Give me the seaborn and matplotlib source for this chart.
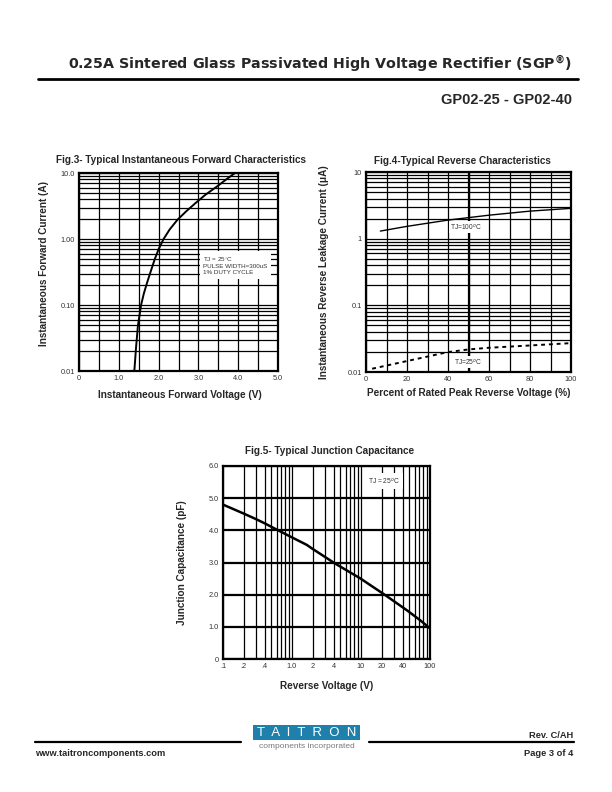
import matplotlib
matplotlib.use("Agg")
import matplotlib.pyplot as plt
import seaborn as sns
from matplotlib.ticker import LogLocator, NullFormatter, MultipleLocator
from matplotlib.lines import Line2D
from matplotlib.patches import Rectangle

# ---------------- data ----------------
# Fig.3 forward characteristics
vf_volts = [1.39, 1.41, 1.43, 1.48, 1.56, 1.63, 1.71, 1.80, 1.90, 2.00, 2.125, 2.28, 2.475, 2.70, 2.92, 3.18, 3.46, 3.70, 3.92]
if_amps = [0.01, 0.0145, 0.0215, 0.0483, 0.1, 0.15, 0.217, 0.32, 0.488, 0.70, 1.0, 1.40, 1.96, 2.65, 3.47, 4.70, 6.2, 8.0, 10.0]
fig3_xticks = [0, 1, 2, 3, 4, 5]
fig3_xlabels = ["0", "1.0", "2.0", "3.0", "4.0", "5.0"]
fig3_yticks = [0.01, 0.1, 1, 10]
fig3_ylabels = ["0.01", "0.10", "1.00", "10.0"]

# Fig.4 reverse characteristics
pct_100 = [7, 20, 40, 60, 80, 100]
ir_100 = [1.30, 1.53, 1.90, 2.25, 2.59, 2.85]
pct_25 = [3, 20, 40, 50, 60, 80, 100]
ir_25 = [0.0112, 0.0146, 0.0199, 0.0218, 0.0231, 0.0250, 0.0271]
fig4_xticks = [0, 20, 40, 60, 80, 100]
fig4_yticks = [0.01, 0.1, 1, 10]
fig4_ylabels = ["0.01", "0.1", "1", "10"]

# Fig.5 junction capacitance
vr_volts = [0.1, 0.2, 0.3, 0.4, 0.63, 1.0, 1.63, 2.0, 4.2, 9.7, 22.3, 45.9, 71.6, 100]
cj_pf = [4.80, 4.52, 4.35, 4.22, 4.00, 3.78, 3.55, 3.42, 2.97, 2.51, 1.99, 1.52, 1.21, 0.95]
fig5_xticks = [0.1, 0.2, 0.4, 1, 2, 4, 10, 20, 40, 100]
fig5_xlabels = [".1", ".2", ".4", "1.0", "2", "4", "10", "20", "40", "100"]
fig5_yticks = [0, 1, 2, 3, 4, 5, 6]
fig5_ylabels = ["0", "1.0", "2.0", "3.0", "4.0", "5.0", "6.0"]

# ---------------- figure ----------------
sns.set_theme(style="white")
plt.rcParams['font.family'] = ['Liberation Sans', 'DejaVu Sans']
plt.rcParams['mathtext.fontset'] = 'custom'
plt.rcParams['mathtext.rm'] = 'Liberation Sans'
plt.rcParams['mathtext.bf'] = 'DejaVu Sans:bold'

W, H = 612, 792
fig = plt.figure(figsize=(W / 100, H / 100), dpi=100)
fig.patch.set_facecolor('white')


def box(l, t, r, b):
    return [l / W, 1 - b / H, (r - l) / W, (b - t) / H]


def ftext(x, y, s, **kw):
    fig.text(x / W, 1 - y / H, s, **kw)


def hline(x0, x1, y, lw):
    fig.add_artist(Line2D([x0 / W, x1 / W], [1 - y / H, 1 - y / H],
                          color='black', lw=lw, transform=fig.transFigure))


def style(ax):
    for s in ax.spines.values():
        s.set_visible(True)
        s.set_color('black')
        s.set_linewidth(1.6)
    ax.tick_params(which='both', length=0, labelsize=5.3, pad=3, colors='#333333')
    ax.grid(which='both', color='black', linewidth=0.9)
    ax.set_axisbelow(True)
    ax.set_facecolor('white')


LAB = 7.2

# ---- Fig.3 ----
ax3 = fig.add_axes(box(79, 173, 278, 371))
style(ax3)
sns.lineplot(x=vf_volts, y=if_amps, ax=ax3, color='black', lw=1.4, sort=False)
ax3.set_yscale('log')
ax3.set_xlim(0, 5)
ax3.set_ylim(0.01, 10)
ax3.set_xticks(fig3_xticks, labels=fig3_xlabels)
ax3.xaxis.set_minor_locator(MultipleLocator(0.5))
ax3.set_yticks(fig3_yticks, labels=fig3_ylabels)
ax3.yaxis.set_minor_locator(LogLocator(base=10, subs=range(2, 10)))
ax3.yaxis.set_minor_formatter(NullFormatter())
ax3.set_xlabel("")
ax3.set_ylabel("")
ax3.text(3.12, 0.40, "TJ = 25$^{\\circ}$C\nPULSE WIDTH=300uS\n1% DUTY CYCLE",
         fontsize=4.5, color='#333333', va='center', ha='left', linespacing=1.2,
         bbox=dict(facecolor='white', edgecolor='none', pad=2.5))
ftext(181, 160, "Fig.3- Typical Instantaneous Forward Characteristics",
      fontsize=LAB, fontweight='bold', ha='center', va='center')
ftext(180, 395, "Instantaneous Forward Voltage (V)",
      fontsize=LAB, fontweight='bold', ha='center', va='center')
ftext(44, 263, "Instantaneous Forward Current (A)", rotation=90,
      fontsize=LAB, fontweight='bold', ha='center', va='center')

# ---- Fig.4 ----
ax4 = fig.add_axes(box(366, 172, 571, 372))
style(ax4)
ax4.axvline(50, color='black', lw=1.6, zorder=0.6)
sns.lineplot(x=pct_100, y=ir_100, ax=ax4, color='black', lw=1.0)
sns.lineplot(x=pct_25, y=ir_25, ax=ax4, color='black', lw=1.4, linestyle=(0, (2, 2)))
ax4.set_yscale('log')
ax4.set_xlim(0, 100)
ax4.set_ylim(0.01, 10)
ax4.set_xticks(fig4_xticks)
ax4.xaxis.set_minor_locator(MultipleLocator(10))
ax4.set_yticks(fig4_yticks, labels=fig4_ylabels)
ax4.yaxis.set_minor_locator(LogLocator(base=10, subs=range(2, 10)))
ax4.yaxis.set_minor_formatter(NullFormatter())
ax4.set_xlabel("")
ax4.set_ylabel("")
ax4.text(49, 1.5, "TJ=100$^{o}$C", fontsize=4.8, color='#333333', ha='center', va='center',
         bbox=dict(facecolor='white', edgecolor='none', pad=1.0))
ax4.text(50, 0.0141, "TJ=25$^{o}$C", fontsize=4.8, color='#333333', ha='center', va='center',
         bbox=dict(facecolor='white', edgecolor='none', pad=1.0))
ftext(462, 161, "Fig.4-Typical Reverse Characteristics",
      fontsize=LAB, fontweight='bold', ha='center', va='center')
ftext(469, 393, "Percent of Rated Peak Reverse Voltage (%)",
      fontsize=LAB, fontweight='bold', ha='center', va='center')
ftext(324, 272, "Instantaneous Reverse Leakage Current (\u03bcA)", rotation=90,
      fontsize=LAB, fontweight='bold', ha='center', va='center')

# ---- Fig.5 ----
ax5 = fig.add_axes(box(223, 466, 430, 659))
style(ax5)
sns.lineplot(x=vr_volts, y=cj_pf, ax=ax5, color='black', lw=1.8)
ax5.set_xscale('log')
ax5.set_xlim(0.1, 100)
ax5.set_ylim(0, 6)
ax5.set_xticks(fig5_xticks, labels=fig5_xlabels)
ax5.xaxis.set_minor_locator(LogLocator(base=10, subs=range(1, 10)))
ax5.xaxis.set_minor_formatter(NullFormatter())
ax5.set_yticks(fig5_yticks, labels=fig5_ylabels)
ax5.grid(which='major', axis='y', color='black', linewidth=1.6)
ax5.set_xlabel("")
ax5.set_ylabel("")
ax5.text(21.5, 5.53, "TJ = 25$^{o}$C", fontsize=4.8, color='#333333', ha='center', va='center',
         bbox=dict(facecolor='white', edgecolor='none', pad=2.0))
ftext(330, 451, "Fig.5- Typical Junction Capacitance",
      fontsize=LAB, fontweight='bold', ha='center', va='center')
ftext(327, 686, "Reverse Voltage (V)",
      fontsize=LAB, fontweight='bold', ha='center', va='center')
ftext(182, 563, "Junction Capacitance (pF)", rotation=90,
      fontsize=LAB, fontweight='bold', ha='center', va='center')

# ---- header ----
ftext(572, 64, "0.25A Sintered Glass Passivated High Voltage Rectifier (SGP$^{\\mathbf{\u00ae}}$)",
      fontsize=10.3, fontweight='bold', family=['DejaVu Sans'], ha='right', va='center')
hline(38, 578, 79, 2.0)
ftext(572, 100, "GP02-25 - GP02-40", fontsize=10.5, fontweight='bold', ha='right', va='center')

# ---- footer ----
hline(35, 241, 742, 1.6)
hline(369, 574, 742, 1.6)
fig.add_artist(Rectangle((253 / W, 1 - 740 / H), (360 - 253) / W, 15 / H,
                         transform=fig.transFigure, facecolor='#1e80ab', edgecolor='none'))
ftext(306.5, 732.8, "T  A  I  T  R  O  N", fontsize=9.5, color='white', ha='center', va='center')
ftext(306.5, 746.5, "components incorporated", fontsize=6.0, color='#7a7a7a', ha='center', va='center')
ftext(35, 753, "www.taitroncomponents.com", fontsize=6.7, fontweight='bold', ha='left', va='center')
ftext(573, 736, "Rev. C/AH", fontsize=6.7, fontweight='bold', ha='right', va='center')
ftext(573, 753, "Page 3 of 4", fontsize=6.7, fontweight='bold', ha='right', va='center')

fig.savefig("out.png", dpi=100, facecolor='white')
